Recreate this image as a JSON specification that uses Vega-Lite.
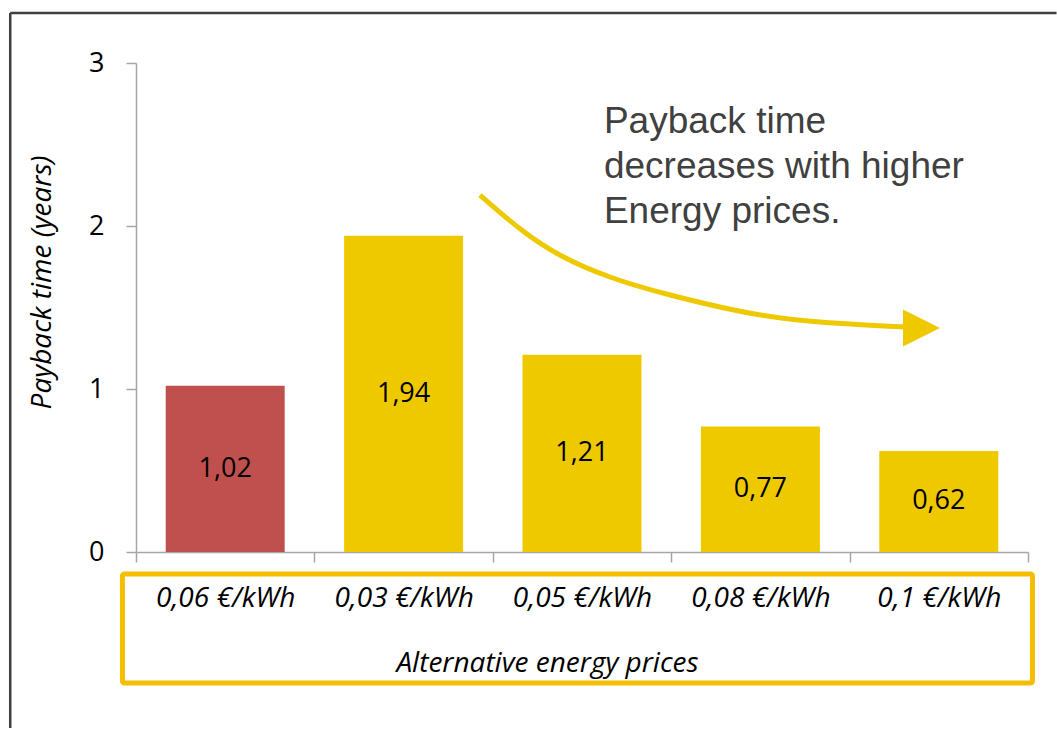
{
  "$schema": "https://vega.github.io/schema/vega-lite/v6.json",
  "width": 892,
  "height": 489,
  "autosize": "none",
  "padding": {"left": 136, "top": 63, "right": 29, "bottom": 177},
  "background": "white",
  "config": {"view": {"stroke": null}, "font": "Open Sans"},
  "datasets": {
    "bars": [
      {"price": "0,06 €/kWh", "years": 1.02, "label": "1,02", "group": "current"},
      {"price": "0,03 €/kWh", "years": 1.94, "label": "1,94", "group": "alternative"},
      {"price": "0,05 €/kWh", "years": 1.21, "label": "1,21", "group": "alternative"},
      {"price": "0,08 €/kWh", "years": 0.77, "label": "0,77", "group": "alternative"},
      {"price": "0,1 €/kWh", "years": 0.62, "label": "0,62", "group": "alternative"}
    ],
    "curve": [
      {"cx": 1.928, "cy": 2.19, "o": 1},
      {"cx": 2.152, "cy": 1.975, "o": 2},
      {"cx": 2.377, "cy": 1.81, "o": 3},
      {"cx": 2.657, "cy": 1.681, "o": 4},
      {"cx": 2.937, "cy": 1.589, "o": 5},
      {"cx": 3.498, "cy": 1.442, "o": 6},
      {"cx": 3.873, "cy": 1.405, "o": 7},
      {"cx": 4.32, "cy": 1.38, "o": 8}
    ],
    "head": [{"cx": 4.403, "cy": 1.374}],
    "note": [{"cx": 2.623, "cy": 2.571, "text": "Payback time\ndecreases with higher\nEnergy prices."}],
    "box": [{"x1": -0.076, "x2": 5.025, "y1": -0.135, "y2": -0.804}],
    "frame": [
      {"x1": -0.705, "x2": 5.16, "y1": 3.307, "y2": 3.307},
      {"x1": -0.705, "x2": -0.705, "y1": 3.307, "y2": -1.08}
    ]
  },
  "layer": [
    {
      "data": {"name": "bars"},
      "layer": [
        {
          "mark": {"type": "bar", "width": {"band": 0.667}},
          "encoding": {
            "x": {
              "field": "price", "type": "nominal", "sort": null,
              "scale": {"paddingInner": 0, "paddingOuter": 0},
              "axis": {
                "title": "Alternative energy prices",
                "titleFont": "Open Sans", "titleFontStyle": "italic", "titleFontWeight": "normal",
                "titleFontSize": 28, "titleColor": "#000000",
                "titleX": 411, "titleY": 111, "titleBaseline": "middle", "titleAlign": "center",
                "labelFont": "Open Sans", "labelFontStyle": "italic", "labelFontSize": 28,
                "labelColor": "#000000", "labelAngle": 0, "labelBaseline": "middle", "labelPadding": 36,
                "domainColor": "#A6A6A6", "domainWidth": 1.5, "tickColor": "#A6A6A6", "tickWidth": 1.5,
                "tickSize": 10, "tickBand": "extent", "grid": false
              }
            },
            "y": {
              "field": "years", "type": "quantitative",
              "scale": {"domain": [0, 3], "nice": false, "zero": true},
              "axis": {
                "title": "Payback time (years)", "values": [0, 1, 2, 3], "format": "d",
                "titleFont": "Open Sans", "titleFontStyle": "italic", "titleFontWeight": "normal",
                "titleFontSize": 28, "titleColor": "#000000",
                "titleX": -94, "titleY": 219, "titleBaseline": "middle", "titleAlign": "center", "titleAngle": -90,
                "labelFont": "Open Sans", "labelFontSize": 27, "labelColor": "#000000", "labelPadding": 22,
                "domainColor": "#A6A6A6", "domainWidth": 1.5, "tickColor": "#A6A6A6", "tickWidth": 1.5,
                "tickSize": 10, "grid": false
              }
            },
            "color": {
              "field": "group", "type": "nominal",
              "scale": {"domain": ["current", "alternative"], "range": ["#C0504D", "#EEC900"]},
              "legend": null
            }
          }
        },
        {
          "transform": [{"calculate": "datum.years / 2", "as": "mid"}],
          "mark": {"type": "text", "font": "Open Sans", "fontSize": 27, "color": "#000000", "baseline": "middle"},
          "encoding": {
            "x": {"field": "price", "type": "nominal", "sort": null},
            "y": {"field": "mid", "type": "quantitative"},
            "text": {"field": "label"}
          }
        }
      ]
    },
    {
      "data": {"name": "frame"},
      "mark": {"type": "rule", "color": "#404040", "strokeWidth": 2.5},
      "encoding": {
        "x": {"field": "x1", "type": "quantitative", "scale": {"domain": [0, 5], "nice": false, "zero": false}, "axis": null},
        "x2": {"field": "x2"},
        "y": {"field": "y1", "type": "quantitative", "scale": {"domain": [0, 3], "nice": false, "zero": false}, "axis": null},
        "y2": {"field": "y2"}
      }
    },
    {
      "data": {"name": "box"},
      "mark": {"type": "rect", "fill": null, "stroke": "#F5BE00", "strokeWidth": 5, "cornerRadius": 2},
      "encoding": {
        "x": {"field": "x1", "type": "quantitative", "scale": {"domain": [0, 5], "nice": false, "zero": false}, "axis": null},
        "x2": {"field": "x2"},
        "y": {"field": "y1", "type": "quantitative", "scale": {"domain": [0, 3], "nice": false, "zero": false}, "axis": null},
        "y2": {"field": "y2"}
      }
    },
    {
      "data": {"name": "curve"},
      "mark": {"type": "line", "color": "#EEC900", "strokeWidth": 5, "interpolate": "basis"},
      "encoding": {
        "x": {"field": "cx", "type": "quantitative", "scale": {"domain": [0, 5], "nice": false, "zero": false}, "axis": null},
        "y": {"field": "cy", "type": "quantitative", "scale": {"domain": [0, 3], "nice": false, "zero": false}, "axis": null},
        "order": {"field": "o"}
      }
    },
    {
      "data": {"name": "head"},
      "mark": {"type": "point", "shape": "M-1,-1L1,0L-1,1Z", "filled": true, "color": "#EEC900", "opacity": 1, "size": 1369},
      "encoding": {
        "x": {"field": "cx", "type": "quantitative", "scale": {"domain": [0, 5], "nice": false, "zero": false}, "axis": null},
        "y": {"field": "cy", "type": "quantitative", "scale": {"domain": [0, 3], "nice": false, "zero": false}, "axis": null}
      }
    },
    {
      "data": {"name": "note"},
      "mark": {"type": "text", "font": "Liberation Sans", "fontSize": 37, "color": "#404040", "align": "left", "baseline": "alphabetic", "lineBreak": "\n", "lineHeight": 45},
      "encoding": {
        "x": {"field": "cx", "type": "quantitative", "scale": {"domain": [0, 5], "nice": false, "zero": false}, "axis": null},
        "y": {"field": "cy", "type": "quantitative", "scale": {"domain": [0, 3], "nice": false, "zero": false}, "axis": null},
        "text": {"field": "text"}
      }
    }
  ],
  "resolve": {"scale": {"x": "independent", "y": "independent"}}
}
